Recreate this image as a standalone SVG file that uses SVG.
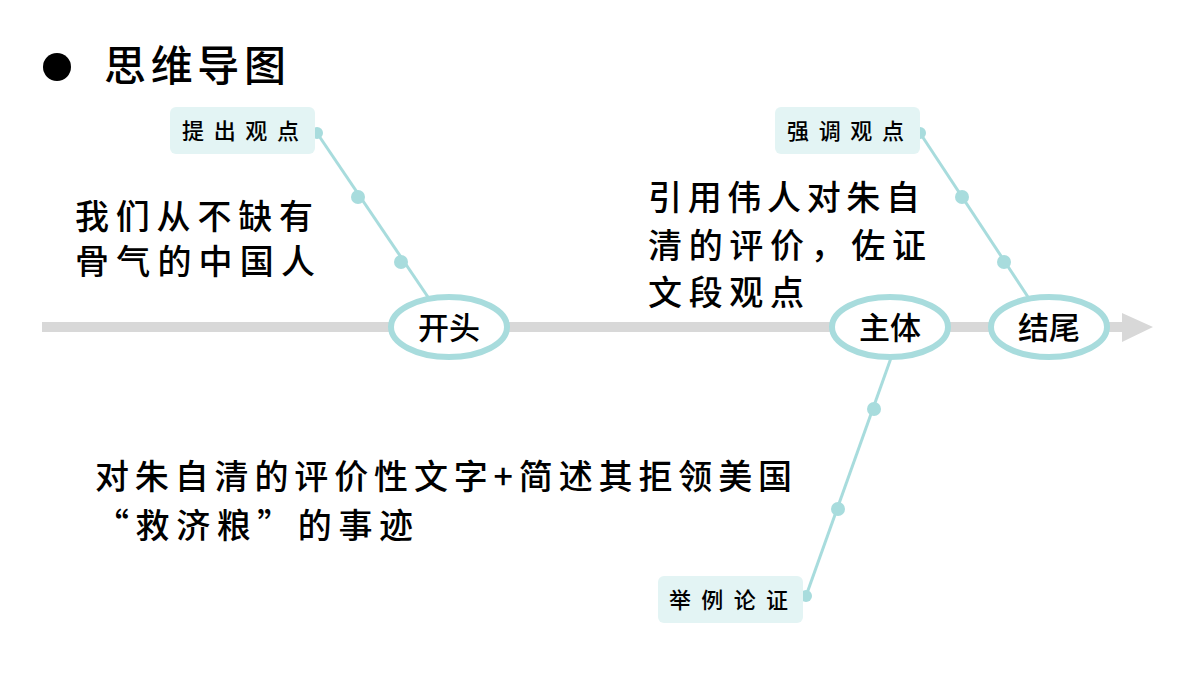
<svg xmlns="http://www.w3.org/2000/svg" width="1200" height="675" viewBox="0 0 1200 675">
<style>
text{font-family:"Noto Sans CJK SC","Noto Sans",sans-serif;fill:#000;font-weight:500}
.big{font-size:34px}
.tag{font-size:22px}
.node{font-size:31px}
.conn{stroke:#a8dcdd;stroke-width:3;fill:none}
.dot{fill:#a8dcdd}
.box{fill:#e3f4f4}
.ell{fill:#fff;stroke:#a8dcdd;stroke-width:6}
</style>
<rect width="1200" height="675" fill="#fff"/>
<g id="title">
<circle cx="57" cy="67" r="14" fill="#000"/>
<text x="104" y="81" font-size="42" textLength="182" lengthAdjust="spacing">思维导图</text>
</g>
<g id="axis">
<rect x="42" y="322" width="1082" height="10" fill="#d8d8d8"/>
<polygon points="1122,313 1153,327 1122,342" fill="#d8d8d8"/>
</g>
<g id="connectors">
<line class="conn" x1="317" y1="133" x2="430" y2="300"/>
<circle class="dot" cx="317" cy="133" r="6"/>
<circle class="dot" cx="358" cy="197" r="7"/>
<circle class="dot" cx="401" cy="262" r="7"/>
<line class="conn" x1="920" y1="133" x2="1030" y2="300"/>
<circle class="dot" cx="920" cy="133" r="6"/>
<circle class="dot" cx="962" cy="197" r="7"/>
<circle class="dot" cx="1004" cy="262" r="7"/>
<line class="conn" x1="891" y1="358" x2="806" y2="596"/>
<circle class="dot" cx="806" cy="596" r="6"/>
<circle class="dot" cx="874" cy="409" r="7"/>
<circle class="dot" cx="838" cy="509" r="7"/>
</g>
<g id="n-kaitou">
<ellipse class="ell" cx="449" cy="327" rx="58" ry="30"/>
<text class="node" x="449" y="339" text-anchor="middle">开头</text>
</g>
<g id="n-zhuti">
<ellipse class="ell" cx="890" cy="327" rx="58" ry="30"/>
<text class="node" x="890" y="339" text-anchor="middle">主体</text>
</g>
<g id="n-jiewei">
<ellipse class="ell" cx="1049" cy="327" rx="58" ry="30"/>
<text class="node" x="1049" y="339" text-anchor="middle">结尾</text>
</g>
<g id="t-tichu">
<rect class="box" x="170" y="107" width="145" height="47" rx="6"/>
<text class="tag" x="182" y="139" textLength="117" lengthAdjust="spacing">提出观点</text>
</g>
<g id="t-qiangdiao">
<rect class="box" x="775" y="107" width="145" height="47" rx="6"/>
<text class="tag" x="787" y="139" textLength="117" lengthAdjust="spacing">强调观点</text>
</g>
<g id="t-juli">
<rect class="box" x="658" y="576" width="145" height="47" rx="6"/>
<text class="tag" x="669" y="608" textLength="119" lengthAdjust="spacing">举例论证</text>
</g>
<g id="d-kaitou">
<text class="big" x="75" y="229" textLength="238" lengthAdjust="spacing">我们从不缺有</text>
<text class="big" x="75" y="274" textLength="240" lengthAdjust="spacing">骨气的中国人</text>
</g>
<g id="d-zhuti">
<text class="big" x="648" y="210" textLength="272" lengthAdjust="spacing">引用伟人对朱自</text>
<text class="big" x="648" y="258" textLength="278" lengthAdjust="spacing">清的评价，佐证</text>
<text class="big" x="648" y="305" textLength="156" lengthAdjust="spacing">文段观点</text>
</g>
<g id="d-juli">
<text class="big" x="95" y="489" textLength="697" lengthAdjust="spacing">对朱自清的评价性文字+简述其拒领美国</text>
<text class="big" x="95" y="538" textLength="318" lengthAdjust="spacing">“救济粮”的事迹</text>
</g>
</svg>
